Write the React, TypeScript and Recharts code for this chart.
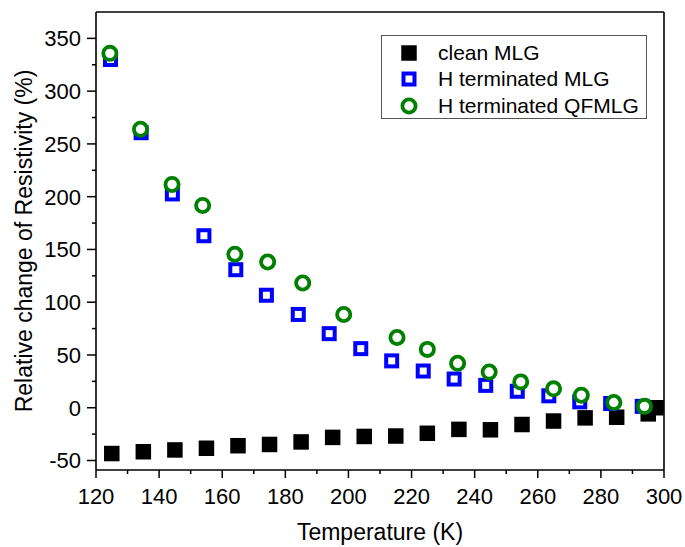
import React from "react"
import { ScatterChart, Scatter, XAxis, YAxis, Legend, Label } from "recharts"

// temperatures (K) and relative change of resistivity (%)
const cleanT = [125, 135, 145, 155, 165, 175, 185, 195, 205, 215, 225, 235, 245, 255, 265, 275, 285, 295, 297.5]
const cleanMLG = [-43.4, -41.7, -40, -38.4, -36, -34.8, -32.4, -28.1, -27.2, -26.8, -24.2, -20.5, -20.9, -15.9, -12.6, -9.6, -9, -5.8, 0]

const hMlgT = [124.6, 134.3, 144.2, 154.2, 164.3, 174, 184.1, 193.9, 203.9, 213.7, 223.7, 233.5, 243.5, 253.5, 263.5, 273.3, 283.1, 293.1]
const hMLG = [330, 260.6, 202.6, 163, 130.8, 106.6, 88.4, 70.2, 56, 44.4, 34.8, 27.2, 21.2, 15.6, 11.3, 5.6, 4, 1.3]

const hQfT = [124.4, 134.1, 144.1, 153.8, 164, 174.4, 185.5, 198.5, 215.4, 225, 234.6, 244.6, 254.6, 265, 273.8, 284.1, 293.8]
const hQFMLG = [335.8, 263.9, 211.6, 191.7, 145.4, 138.1, 118.2, 88.4, 66.6, 55.3, 42.1, 33.8, 24.5, 17.9, 11.9, 5, 1.3]

const xTicks = [120, 130, 140, 150, 160, 170, 180, 190, 200, 210, 220, 230, 240, 250, 260, 270, 280, 290, 300]
const yTicks = [-50, -25, 0, 25, 50, 75, 100, 125, 150, 175, 200, 225, 250, 275, 300, 325, 350]

const seriesNames = ["clean MLG", "H terminated MLG", "H terminated QFMLG"]

const FONT = "Arial, 'Liberation Sans', sans-serif"

const toPoints = (xs: number[], ys: number[]) => xs.map((x, i) => ({ x, y: ys[i] }))

const BlackSquare = ({ cx, cy }: any) => (
  <rect x={cx - 7.75} y={cy - 7.75} width={15.5} height={15.5} fill="#000" />
)
const BlueSquare = ({ cx, cy }: any) => (
  <rect x={cx - 5.5} y={cy - 5.5} width={11} height={11} fill="#fff" stroke="#0000ff" strokeWidth={4} />
)
const GreenCircle = ({ cx, cy }: any) => (
  <circle cx={cx} cy={cy} r={6.6} fill="#fff" stroke="#008000" strokeWidth={3.8} />
)

const BottomTick = ({ x, y, payload }: any) => {
  const major = payload.value % 20 === 0
  return (
    <g>
      <line x1={x} x2={x} y1={y} y2={y + (major ? 8 : 4)} stroke="#000" strokeWidth={1.5} />
      {major && (
        <text x={x} y={y + 34} textAnchor="middle" fontSize={22} fontFamily={FONT} fill="#000">
          {payload.value}
        </text>
      )}
    </g>
  )
}

const TopTick = ({ x, y, payload }: any) => {
  const major = payload.value % 20 === 0
  return <line x1={x} x2={x} y1={y} y2={y + (major ? 8 : 4)} stroke="#000" strokeWidth={1.5} />
}

const LeftTick = ({ x, y, payload }: any) => {
  const major = payload.value % 50 === 0
  return (
    <g>
      <line x1={x} x2={x - (major ? 9 : 4)} y1={y} y2={y} stroke="#000" strokeWidth={1.5} />
      {major && (
        <text x={x - 15} y={y + 7.9} textAnchor="end" fontSize={22} fontFamily={FONT} fill="#000">
          {payload.value}
        </text>
      )}
    </g>
  )
}

const RightTick = ({ x, y, payload }: any) => {
  const major = payload.value % 50 === 0
  return <line x1={x} x2={x - (major ? 8 : 4)} y1={y} y2={y} stroke="#000" strokeWidth={1.5} />
}

const markers = [
  <rect key="a" x={0.25} y={0.25} width={15.5} height={15.5} fill="#000" />,
  <rect key="b" x={2.5} y={2.5} width={11} height={11} fill="#fff" stroke="#0000ff" strokeWidth={4} />,
  <circle key="c" cx={8} cy={8} r={6.6} fill="#fff" stroke="#008000" strokeWidth={3.8} />,
]

const LegendBox = () => (
  <div
    style={{
      position: "relative",
      width: 264,
      height: 82,
      border: "1px solid #555",
      background: "#fff",
      fontFamily: FONT,
      fontSize: 21,
      color: "#000",
    }}
  >
    {seriesNames.map((name, i) => (
      <div
        key={name}
        style={{
          position: "absolute",
          left: 0,
          top: [4, 30, 57][i],
          height: 26,
          display: "flex",
          alignItems: "center",
          whiteSpace: "nowrap",
        }}
      >
        <svg width={16} height={16} style={{ marginLeft: 19, marginRight: 21, overflow: "visible" }}>
          {markers[i]}
        </svg>
        <span>{name}</span>
      </div>
    ))}
  </div>
)

export default function App() {
  return (
    <div style={{ position: "absolute", left: 0, top: 0, background: "#fff" }}>
      <ScatterChart width={685} height={547} margin={{ top: 11, right: 20, bottom: 76, left: 95 }}>
        <XAxis
          type="number"
          dataKey="x"
          domain={[120, 300]}
          ticks={xTicks}
          interval={0}
          height={1}
          tickSize={0}
          tickMargin={0}
          tick={<BottomTick />}
          axisLine={{ stroke: "#000", strokeWidth: 1.6 }}
          tickLine={false}
        >
          <Label
            content={() => (
              <text x={380} y={540} textAnchor="middle" fontSize={23} fontFamily={FONT} fill="#000">
                Temperature (K)
              </text>
            )}
          />
        </XAxis>
        <XAxis
          xAxisId="top"
          orientation="top"
          type="number"
          domain={[120, 300]}
          ticks={xTicks}
          interval={0}
          height={1}
          tickSize={0}
          tickMargin={0}
          tick={<TopTick />}
          axisLine={{ stroke: "#000", strokeWidth: 1.6 }}
          tickLine={false}
        />
        <YAxis
          type="number"
          dataKey="y"
          domain={[-59, 375]}
          ticks={yTicks}
          interval={0}
          width={1}
          tickSize={0}
          tickMargin={0}
          tick={<LeftTick />}
          axisLine={{ stroke: "#000", strokeWidth: 1.6 }}
          tickLine={false}
        >
          <Label
            content={() => (
              <text
                x={24}
                y={241}
                transform="rotate(-90 24 241)"
                textAnchor="middle"
                dominantBaseline="central"
                fontSize={23}
                fontFamily={FONT}
                fill="#000"
              >
                Relative change of Resistivity (%)
              </text>
            )}
          />
        </YAxis>
        <YAxis
          yAxisId="right"
          orientation="right"
          type="number"
          domain={[-59, 375]}
          ticks={yTicks}
          interval={0}
          width={1}
          tickSize={0}
          tickMargin={0}
          tick={<RightTick />}
          axisLine={{ stroke: "#000", strokeWidth: 1.6 }}
          tickLine={false}
        />
        <Scatter
          name={seriesNames[0]}
          data={toPoints(cleanT, cleanMLG)}
          shape={<BlackSquare />}
          isAnimationActive={false}
        />
        <Scatter
          name={seriesNames[1]}
          data={toPoints(hMlgT, hMLG)}
          shape={<BlueSquare />}
          isAnimationActive={false}
        />
        <Scatter
          name={seriesNames[2]}
          data={toPoints(hQfT, hQFMLG)}
          shape={<GreenCircle />}
          isAnimationActive={false}
        />
        <Legend
          layout="horizontal"
          verticalAlign="middle"
          align="center"
          wrapperStyle={{ top: 35, left: 381, width: 266, height: 84 }}
          content={() => <LegendBox />}
        />
      </ScatterChart>
    </div>
  )
}
